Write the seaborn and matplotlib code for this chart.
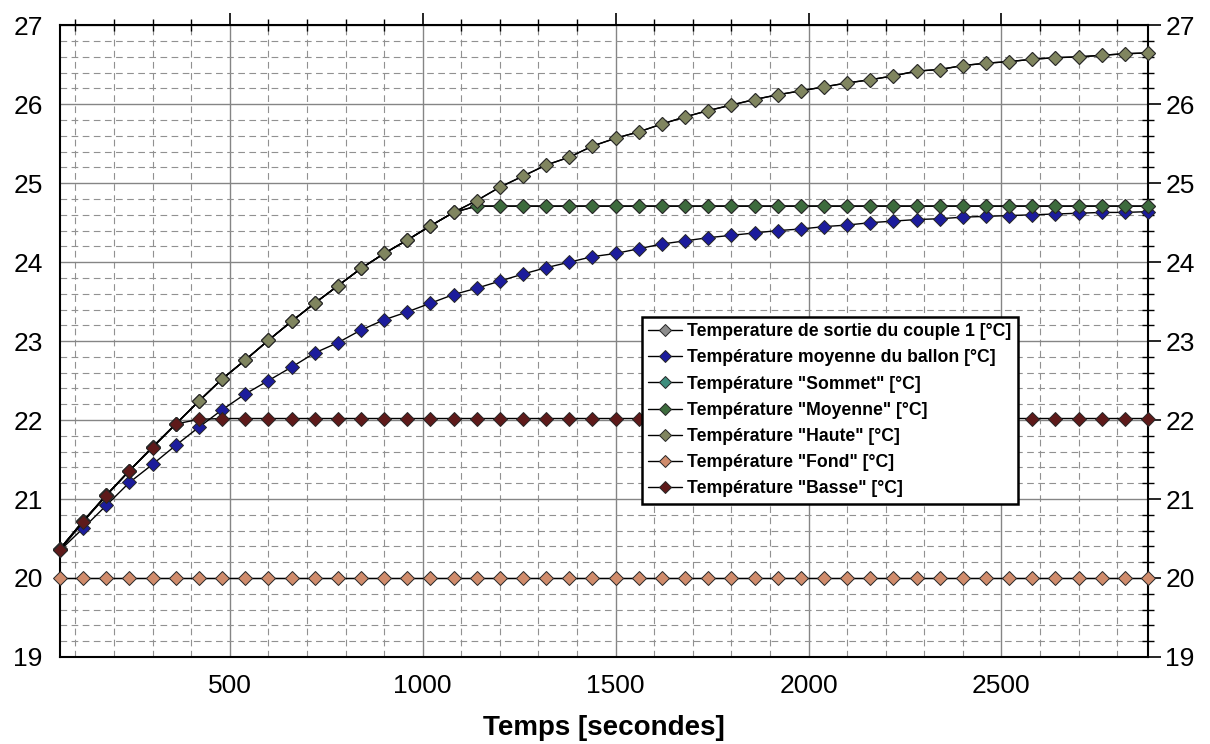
import seaborn as sns
import matplotlib.pyplot as plt
import numpy as np
from matplotlib.ticker import MultipleLocator

sns.set_style("white")
plt.rcParams['font.family'] = ['Liberation Sans', 'DejaVu Sans']

# time axis: one sample every 60 s
time = np.arange(60, 2881, 60)

haute = [20.37, 20.72, 21.05, 21.36, 21.66, 21.95, 22.24, 22.52, 22.76, 23.01,
         23.25, 23.48, 23.70, 23.92, 24.11, 24.28, 24.46, 24.63, 24.78, 24.95,
         25.09, 25.23, 25.33, 25.47, 25.57, 25.65, 25.75, 25.84, 25.92, 25.99,
         26.06, 26.12, 26.17, 26.22, 26.27, 26.31, 26.36, 26.42, 26.44, 26.49,
         26.52, 26.54, 26.57, 26.59, 26.60, 26.62, 26.64, 26.65]
couple1 = list(haute)  # hidden under "Haute"
ballon = [20.35, 20.63, 20.92, 21.21, 21.44, 21.68, 21.91, 22.13, 22.33, 22.50,
          22.67, 22.85, 22.98, 23.14, 23.27, 23.37, 23.48, 23.59, 23.67, 23.76,
          23.85, 23.93, 24.00, 24.07, 24.11, 24.17, 24.23, 24.27, 24.31, 24.34,
          24.37, 24.40, 24.42, 24.45, 24.47, 24.50, 24.52, 24.54, 24.55, 24.57,
          24.58, 24.59, 24.60, 24.61, 24.62, 24.63, 24.63, 24.64]
moyenne = haute[:18] + [24.71] * 30
sommet = list(moyenne)
fond = [20.0] * 48
basse = [20.35, 20.71, 21.04, 21.36, 21.65, 21.95, 22.01] + [22.02] * 41

names = ['Temperature de sortie du couple 1 [°C]',
         'Température moyenne du ballon [°C]',
         'Température "Sommet" [°C]',
         'Température "Moyenne" [°C]',
         'Température "Haute" [°C]',
         'Température "Fond" [°C]',
         'Température "Basse" [°C]']
values = [couple1, ballon, sommet, moyenne, haute, fond, basse]
colors = ['#8c8c8c', '#1c1c9c', '#3e8e7e', '#3d6b3d', '#80855f', '#d08c6c', '#5e1a1a']

fig, ax = plt.subplots(figsize=(12.1, 7.44), dpi=100)
fig.subplots_adjust(left=0.0496, right=0.9488, top=0.966, bottom=0.117)

for i, (name, vals, c) in enumerate(zip(names, values, colors)):
    sns.lineplot(x=time, y=vals, ax=ax, color='black', linewidth=1,
                 marker='D', markersize=7.5, markerfacecolor=c,
                 markeredgecolor='#262626', markeredgewidth=0.7,
                 label=name, clip_on=False, zorder=3 + i)

ax.set_xlim(60, 2880)
ax.set_ylim(19, 27)
ax.xaxis.set_major_locator(MultipleLocator(500))
ax.xaxis.set_minor_locator(MultipleLocator(100))
ax.yaxis.set_major_locator(MultipleLocator(1))
ax.yaxis.set_minor_locator(MultipleLocator(0.2))

ax.grid(which='major', color='#858585', linewidth=1, linestyle='-')
ax.grid(which='minor', color='#919191', linewidth=0.8, linestyle=(0, (6, 4)))
ax.set_axisbelow(True)

ax.tick_params(which='both', top=True, right=True, labelright=True,
               color='black', labelcolor='black')
ax.tick_params(which='major', direction='out', length=9, width=1.2, labelsize=19)
ax.tick_params(which='minor', direction='inout', length=8, width=1)
for s in ax.spines.values():
    s.set_color('black')
    s.set_linewidth(1.5)

ax.set_xlabel('Temps [secondes]', fontsize=20, fontweight='bold',
              color='black', labelpad=12)
ax.set_ylabel('')

leg = ax.legend(loc='upper left', bbox_to_anchor=(0.535, 0.538),
                frameon=True, fancybox=False, edgecolor='black', framealpha=1,
                prop=dict(weight='bold', size=12.7,
                          family=['Liberation Sans Narrow', 'Liberation Sans']),
                markerscale=0.8, handlelength=1.9, borderpad=0.35,
                labelspacing=0.52, handletextpad=0.3, borderaxespad=0)
leg.get_frame().set_linewidth(1.8)
leg.set_zorder(20)
for t in leg.get_texts():
    t.set_color('black')

fig.savefig('out.png', dpi=100)
plt.close()
